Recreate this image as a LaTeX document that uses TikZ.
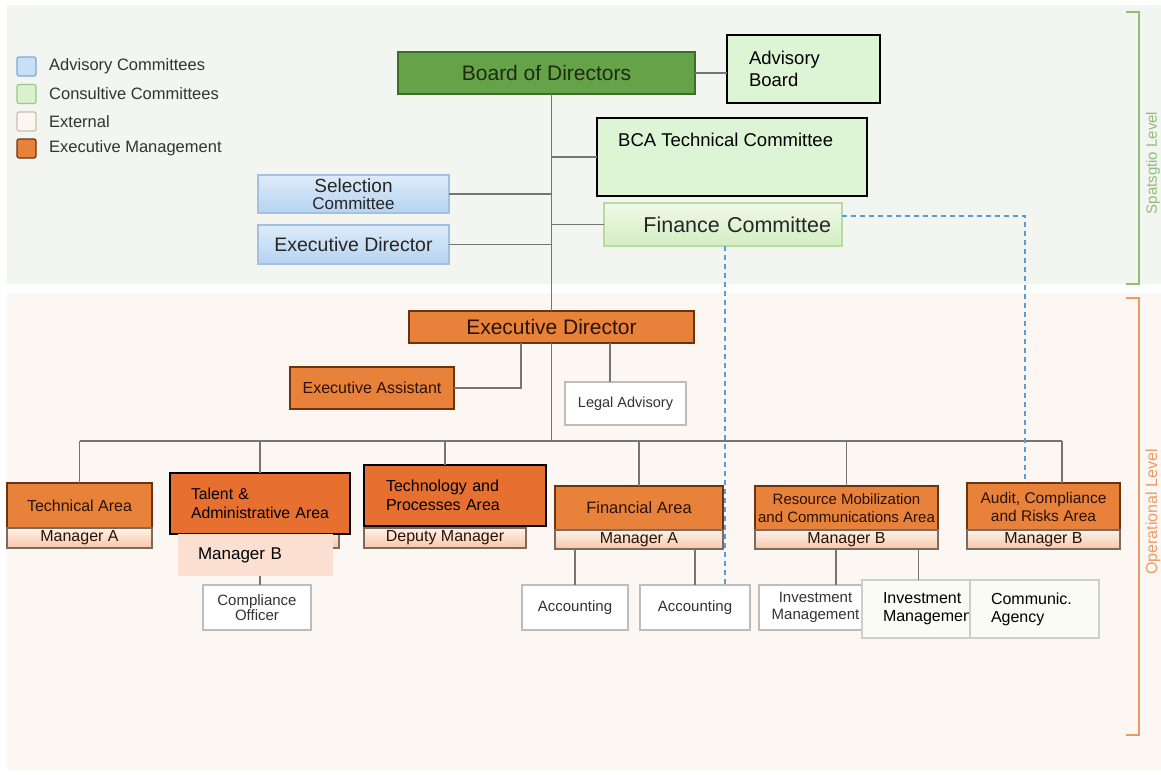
\documentclass[tikz,border=0pt]{standalone}
\usepackage{fontspec}
\setmainfont{Liberation Sans}
\newcommand\fz[2]{\fontsize{#1}{#2}\selectfont}
\definecolor{bandS}{HTML}{F3F5F0}
\definecolor{bandO}{HTML}{FDF7F3}
\definecolor{lineg}{HTML}{757575}
\definecolor{dashb}{HTML}{5B9BD5}
\definecolor{orgF}{HTML}{E8823A}
\definecolor{orgD}{HTML}{6B3410}
\definecolor{orgV}{HTML}{E76F2F}
\definecolor{orgT}{HTML}{2A1205}
\definecolor{bodF}{HTML}{66A348}
\definecolor{bodD}{HTML}{3B6E27}
\definecolor{bodT}{HTML}{1C2A12}
\definecolor{lgrn}{HTML}{DDF5D5}
\definecolor{bluT}{HTML}{DDECFA}
\definecolor{bluB}{HTML}{B6D3F1}
\definecolor{bluD}{HTML}{A2C1E2}
\definecolor{finT}{HTML}{EFF9E8}
\definecolor{finB}{HTML}{D3EEC2}
\definecolor{finD}{HTML}{B8DBA4}
\definecolor{bndT}{HTML}{FEF2EA}
\definecolor{bndB}{HTML}{F7C6A6}
\definecolor{bndD}{HTML}{7D6A5F}
\definecolor{mgrB}{HTML}{FBE0D2}
\definecolor{whD}{HTML}{BDBDBD}
\definecolor{extF}{HTML}{FBFBF6}
\definecolor{extD}{HTML}{CFCFC8}
\definecolor{brG}{HTML}{8CBF7A}
\definecolor{brO}{HTML}{EC9A63}
\definecolor{txt}{HTML}{333333}
\definecolor{lgB}{HTML}{C9DFF5}
\definecolor{lgBD}{HTML}{7FA8D4}
\definecolor{lgG}{HTML}{D9F2CC}
\definecolor{lgGD}{HTML}{98C888}
\definecolor{lgE}{HTML}{FBF7F0}
\definecolor{lgED}{HTML}{C8BFB0}
\begin{document}
\begin{tikzpicture}[x=1pt,y=-1pt,
  bx/.style={inner sep=0pt, outer sep=0pt, align=center},
  conn/.style={draw=lineg, line width=1.3pt},
  dsh/.style={draw=dashb, line width=1.3pt, dash pattern=on 5pt off 4pt},
  orgbox/.style={bx, fill=orgF, draw=orgD, line width=1.5pt, text=orgT},
  ovbox/.style={bx, fill=orgV, draw=black, line width=1.6pt, text=black, align=left},
  band/.style={bx, top color=bndT, bottom color=bndB, draw=bndD, line width=1.2pt, text=orgT},
  whbox/.style={bx, fill=white, draw=whD, line width=1.2pt, text=txt},
  extbox/.style={bx, fill=extF, draw=extD, line width=1.2pt, text=black, align=left},
  bluebox/.style={bx, top color=bluT, bottom color=bluB, draw=bluD, line width=1.2pt, text=black!85},
  lgsq/.style={minimum size=19pt, inner sep=0pt, rounded corners=2pt, line width=1.2pt},
  lgtx/.style={anchor=west, inner sep=0pt, text=txt, font=\fz{16.5}{18}}
]
\useasboundingbox (0,0) rectangle (1161,774);
\fill[white] (0,0) rectangle (1161,774);
\fill[bandS] (7,5) rectangle (1161,284);
\fill[bandO] (7,293) rectangle (1161,770);

% legend
\node[lgsq, fill=lgB, draw=lgBD] (lg1) at (26.5,66.5) {};
\node[lgsq, fill=lgG, draw=lgGD] (lg2) at (26.5,94) {};
\node[lgsq, fill=lgE, draw=lgED] (lg3) at (26.5,121.5) {};
\node[lgsq, fill=orgF, draw=orgD] (lg4) at (26.5,148.5) {};
\node[lgtx] (lt1) at (49,66.5) {Advisory Committees};
\node[lgtx] (lt2) at (49,94) {Consultive Committees};
\node[lgtx] (lt3) at (49,121.5) {External};
\node[lgtx] (lt4) at (49,148.5) {Executive Management};

% brackets
\draw[brG, line width=1.3pt] (1126,12) -- (1139,12) -- (1139,284) -- (1126,284);
\draw[brO, line width=1.3pt] (1126,298) -- (1139,298) -- (1139,735) -- (1126,735);
\node[rotate=90, text=brG, font=\fz{15}{17}, inner sep=0pt] (lvS) at (1153,163) {Spatsgtio Level};
\node[rotate=90, text=brO, font=\fz{16}{18}, inner sep=0pt] (lvO) at (1153,512) {Operational Level};

% strategic level
\node[bx, fill=bodF, draw=bodD, line width=1.5pt, text=bodT, minimum width=297pt, minimum height=42pt, font=\fz{21}{24}] (bod) at (546.5,73) {Board of Directors};
\node[bx, fill=lgrn, draw=black, line width=1.6pt, minimum width=153pt, minimum height=68pt, align=left, inner xsep=22pt, text width=109pt, font=\fz{18.5}{22}] (ab) at (803.5,69) {Advisory\\Board};
\node[bx, fill=lgrn, draw=black, line width=1.6pt, minimum width=270pt, minimum height=78pt] (bca) at (732,157) {};
\node[anchor=west, inner sep=0pt, font=\fz{18.5}{22}] (bcat) at (618,140) {BCA Technical Committee};
\node[bluebox, minimum width=191pt, minimum height=38pt, font=\fz{19}{17}] (sel) at (353.5,194) {Selection\\{\fz{17}{17}Committee}};
\node[bluebox, minimum width=191pt, minimum height=39pt, font=\fz{19.5}{22}] (edb) at (353.5,244.5) {Executive Director};
\node[bx, top color=finT, bottom color=finB, draw=finD, line width=1.2pt, text=black!85, minimum width=238pt, minimum height=43pt, text width=216pt, inner xsep=11pt, align=right, font=\fz{21.5}{24}] (fin) at (723,224.5) {Finance Committee};

% operational level
\node[orgbox, minimum width=285pt, minimum height=32pt, font=\fz{21}{24}] (edo) at (551.5,327) {Executive Director};
\node[orgbox, minimum width=164pt, minimum height=42pt, font=\fz{16}{18}] (ea) at (372,388) {Executive Assistant};
\node[whbox, minimum width=121pt, minimum height=43pt, font=\fz{14.5}{16}] (la) at (625.5,403.5) {Legal Advisory};

% areas
\node[orgbox, minimum width=145pt, minimum height=45pt, font=\fz{16}{18}] (ta) at (79.5,505.5) {Technical Area};
\node[band, minimum width=145pt, minimum height=20pt, font=\fz{16}{18}] (tb) at (79.5,538) {Manager A};

\node[orgbox, minimum width=157pt, minimum height=45pt] (tao) at (260.5,505.5) {};
\node[band, minimum width=157pt, minimum height=20pt] (tbo) at (260.5,538) {};
\node[ovbox, minimum width=180pt, minimum height=61pt, inner xsep=21pt, text width=138pt, font=\fz{15.8}{19}] (tov) at (260,503.5) {Talent \&\\Administrative~Area};
\node[bx, fill=mgrB, minimum width=155pt, minimum height=42pt, align=left, inner xsep=20pt, text width=115pt, font=\fz{17}{19}] (mbo) at (255.5,555) {Manager B};
\node[whbox, minimum width=108pt, minimum height=45pt, font=\fz{15}{15}] (co) at (257,607.5) {Compliance\\Officer};

\node[orgbox, minimum width=162pt, minimum height=45pt] (tpo) at (445,505.5) {};
\node[band, minimum width=162pt, minimum height=20pt, font=\fz{16}{18}] (tpb) at (445,538) {Deputy Manager};
\node[ovbox, minimum width=182pt, minimum height=61pt, inner xsep=22pt, text width=138pt, font=\fz{16}{19}] (tpv) at (455,495.5) {Technology and\\Processes Area};

\node[orgbox, minimum width=168pt, minimum height=44pt, font=\fz{16.5}{18}] (fa) at (639,508) {Financial Area};
\node[band, minimum width=168pt, minimum height=19pt, font=\fz{16}{18}] (fb) at (639,539.5) {Manager A};
\node[whbox, minimum width=106pt, minimum height=45pt, font=\fz{15}{17}] (acc1) at (575,607.5) {Accounting};
\node[whbox, minimum width=110pt, minimum height=45pt, font=\fz{15}{17}] (acc2) at (695,607.5) {Accounting};

\node[orgbox, minimum width=183pt, minimum height=44pt, font=\fz{15}{18}] (ra) at (846.5,508) {Resource Mobilization\\and Communications Area};
\node[band, minimum width=183pt, minimum height=19pt, font=\fz{16}{18}] (rb) at (846.5,539.5) {Manager B};
\node[whbox, minimum width=113pt, minimum height=45pt, font=\fz{15}{17}] (inv1) at (815.5,607.5) {Investment\\Management};
\node[extbox, minimum width=113pt, minimum height=58pt, inner xsep=21pt, text width=71pt, font=\fz{16}{18}] (inv2) at (918.5,609) {Investment\\Managemen};
\node[extbox, minimum width=129pt, minimum height=58pt, inner xsep=21pt, text width=87pt, font=\fz{16}{18}] (ca) at (1034.5,609) {Communic.\\Agency};

\node[orgbox, minimum width=153pt, minimum height=47pt, font=\fz{15.5}{18}] (aa) at (1043.5,506.5) {Audit, Compliance\\and Risks Area};
\node[band, minimum width=153pt, minimum height=19pt, font=\fz{16}{18}] (abnd) at (1043.5,539.5) {Manager B};

% connectors strategic
\draw[conn] (ab.west |- bod.east) -- (bod.east);
\draw[conn] (bod.south -| edo.north) -- (edo.north);
\draw[conn] (bca.west) -- (bca.west -| edo.north);
\draw[conn] (sel.east) -- (sel.east -| edo.north);
\draw[conn] (fin.west) -- (fin.west -| edo.north);
\draw[conn] (edb.east) -- (edb.east -| edo.north);

% connectors operational
\coordinate (bus) at (551,441);
\coordinate (eaj) at (521,343);
\coordinate (laj) at (610,343);
\coordinate (auj) at (1062,441);
\draw[conn] (eaj) |- (ea.east);
\draw[conn] (laj) -- (laj |- la.north);
\draw[conn] (edo.south) -- (edo.south |- bus);
\draw[conn] (ta.north |- bus) -- (auj);
\draw[conn] (ta.north |- bus) -- (ta.north);
\draw[conn] (tov.north |- bus) -- (tov.north);
\draw[conn] (tpo.north |- bus) -- (tpv.north -| tpo.north);
\draw[conn] (fa.north |- bus) -- (fa.north);
\draw[conn] (ra.north |- bus) -- (ra.north);
\draw[conn] (auj) -- (auj |- aa.north);
\draw[conn] (mbo.south -| tov.north) -- (co.north -| tov.north);
\draw[conn] (acc1.north |- fb.south) -- (acc1.north);
\draw[conn] (acc2.north |- fb.south) -- (acc2.north);
\coordinate (invj) at (836,549);
\draw[conn] (invj) -- (invj |- inv1.north);
\draw[conn] (inv2.north |- rb.south) -- (inv2.north);

% dashed links
\coordinate (d1) at (1025,216);
\coordinate (d2) at (725,246);
\draw[dsh] (fin.east |- d1) -- (d1) -- (d1 |- aa.north);
\draw[dsh] (d2 |- fin.south) -- (d2 |- acc2.north);
\end{tikzpicture}
\end{document}
